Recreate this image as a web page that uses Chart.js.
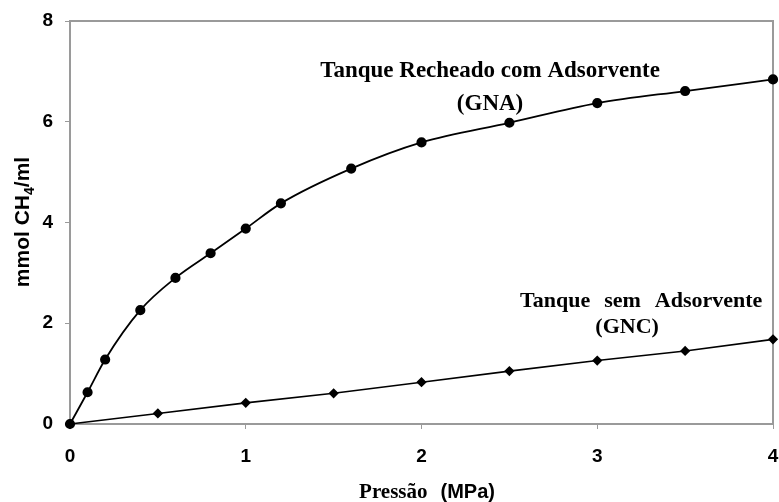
<!DOCTYPE html>
<html>
<head>
<meta charset="utf-8">
<script src="https://cdn.jsdelivr.net/npm/chart.js@4"></script>
<style>
  html, body { margin: 0; padding: 0; background: #fff; }
  #wrap { width: 779px; height: 502px; }
</style>
</head>
<body>
<div id="wrap"><canvas id="isoterma"></canvas></div>
<script>
// Pressão (MPa) e capacidade (mmol CH4/ml)
const pressaoGNA = [0, 0.1, 0.2, 0.4, 0.6, 0.8, 1.0, 1.2, 1.6, 2.0, 2.5, 3.0, 3.5, 4.0];
const capacidadeGNA = [0, 0.63, 1.28, 2.26, 2.90, 3.39, 3.88, 4.38, 5.07, 5.59, 5.98, 6.37, 6.61, 6.84];

const pressaoGNC = [0, 0.5, 1.0, 1.5, 2.0, 2.5, 3.0, 3.5, 4.0];
const capacidadeGNC = [0, 0.21, 0.42, 0.61, 0.83, 1.05, 1.26, 1.45, 1.68];

const xTicks = [0, 1, 2, 3, 4];
const yTicks = [0, 2, 4, 6, 8];

const SERIF = '"Liberation Serif", "Times New Roman", serif';
const SANS = '"Liberation Sans", Arial, sans-serif';
const GRAY = '#9a9a9a';

const toPoints = (xs, ys) => xs.map((x, i) => ({ x: x, y: ys[i] }));

// moldura, títulos dos eixos e rótulos das curvas
const extras = {
  id: 'extras',
  beforeDatasetsDraw(chart) {
    const { ctx, chartArea: a } = chart;
    ctx.save();
    ctx.strokeStyle = GRAY;
    ctx.lineWidth = 2;
    ctx.strokeRect(a.left, a.top, a.right - a.left, a.bottom - a.top);
    ctx.restore();
  },
  afterDraw(chart) {
    const { ctx, scales } = chart;
    const px = v => scales.x.getPixelForValue(v);
    const py = v => scales.y.getPixelForValue(v);
    ctx.save();
    ctx.fillStyle = '#000';
    ctx.textBaseline = 'alphabetic';

    // rótulos das curvas
    ctx.font = 'bold 23px ' + SERIF;
    ctx.textAlign = 'center';
    ctx.fillText('Tanque Recheado com Adsorvente', px(2.39), py(6.89));
    ctx.fillText('(GNA)', px(2.39), py(6.23));

    // palavras espaçadas
    ctx.font = 'bold 22px ' + SERIF;
    const words = ['Tanque', 'sem', 'Adsorvente'];
    const gap = 14;
    const widths = words.map(w => ctx.measureText(w).width);
    const total = widths.reduce((s, w) => s + w, 0) + gap * (words.length - 1);
    let x = px(3.25) - total / 2;
    ctx.textAlign = 'left';
    words.forEach((w, i) => {
      ctx.fillText(w, x, py(2.33));
      x += widths[i] + gap;
    });
    ctx.textAlign = 'center';
    ctx.fillText('(GNC)', px(3.17), py(1.80));

    // título do eixo x: "Pressão" serifado, "(MPa)" sem serifa
    ctx.textAlign = 'left';
    ctx.font = 'bold 21px ' + SERIF;
    const w1 = ctx.measureText('Pressão').width;
    ctx.font = 'bold 20px ' + SANS;
    const w2 = ctx.measureText('(MPa)').width;
    const sp = 13;
    let tx = 427 - (w1 + sp + w2) / 2;
    ctx.font = 'bold 21px ' + SERIF;
    ctx.fillText('Pressão', tx, 498);
    ctx.font = 'bold 20px ' + SANS;
    ctx.fillText('(MPa)', tx + w1 + sp, 498);

    // título do eixo y com subscrito
    ctx.translate(29, 222);
    ctx.rotate(-Math.PI / 2);
    ctx.font = 'bold 21px ' + SANS;
    const a1 = ctx.measureText('mmol CH').width;
    const a3 = ctx.measureText('/ml').width;
    ctx.font = 'bold 14px ' + SANS;
    const a2 = ctx.measureText('4').width;
    let yx = -(a1 + a2 + a3) / 2;
    ctx.font = 'bold 21px ' + SANS;
    ctx.fillText('mmol CH', yx, 0);
    ctx.font = 'bold 14px ' + SANS;
    ctx.fillText('4', yx + a1, 5);
    ctx.font = 'bold 21px ' + SANS;
    ctx.fillText('/ml', yx + a1 + a2, 0);
    ctx.restore();
  }
};

new Chart(document.getElementById('isoterma'), {
  type: 'line',
  data: {
    datasets: [
      {
        label: 'GNA',
        data: toPoints(pressaoGNA, capacidadeGNA),
        borderColor: '#000',
        backgroundColor: '#000',
        borderWidth: 1.8,
        pointStyle: 'circle',
        pointRadius: 4.2,
        cubicInterpolationMode: 'monotone',
        clip: false
      },
      {
        label: 'GNC',
        data: toPoints(pressaoGNC, capacidadeGNC),
        borderColor: '#000',
        backgroundColor: '#000',
        borderWidth: 1.6,
        pointStyle: 'rectRot',
        pointRadius: 4,
        tension: 0,
        clip: false
      }
    ]
  },
  options: {
    responsive: true,
    maintainAspectRatio: false,
    animation: false,
    layout: { padding: { top: 21, right: 5, left: 0, bottom: 0 } },
    plugins: {
      legend: { display: false },
      tooltip: { enabled: false }
    },
    scales: {
      x: {
        type: 'linear',
        min: 0,
        max: 4,
        afterBuildTicks: s => { s.ticks = xTicks.map(v => ({ value: v })); },
        afterFit: s => { s.height = 78; s.paddingRight = 0; s.paddingLeft = 0; },
        grid: { drawOnChartArea: false, color: GRAY, tickLength: 5, lineWidth: 1 },
        border: { display: false },
        ticks: { color: '#000', padding: 16, font: { family: SANS, size: 19, weight: 'bold' } }
      },
      y: {
        min: 0,
        max: 8,
        afterBuildTicks: s => { s.ticks = yTicks.map(v => ({ value: v })); },
        afterFit: s => { s.width = 70; s.paddingTop = 0; s.paddingBottom = 0; },
        grid: { drawOnChartArea: false, color: GRAY, tickLength: 5, lineWidth: 1 },
        border: { display: false },
        ticks: { color: '#000', padding: 12, font: { family: SANS, size: 19, weight: 'bold' } }
      }
    }
  },
  plugins: [extras]
});
</script>
</body>
</html>
